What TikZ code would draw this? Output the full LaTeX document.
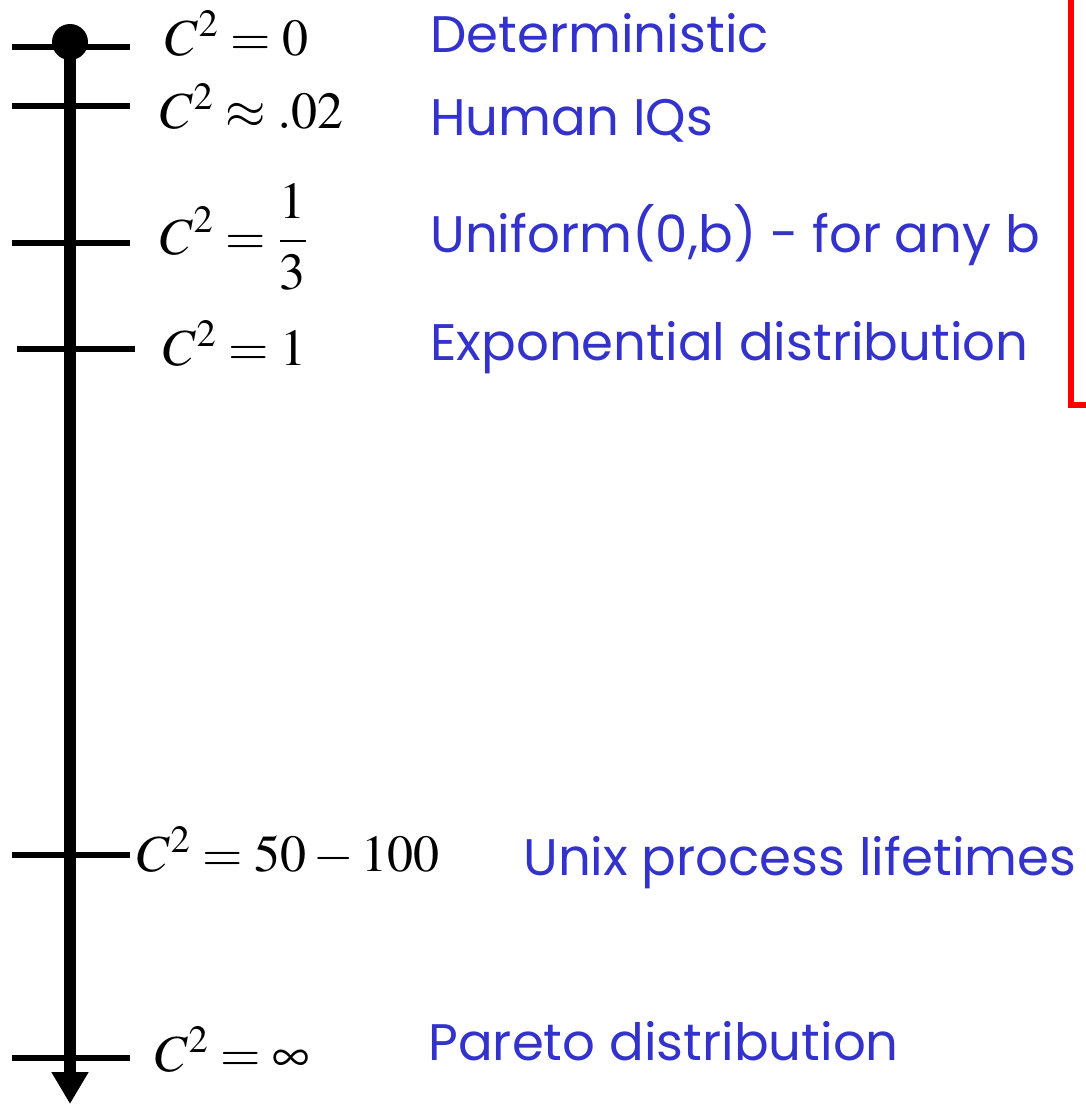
\documentclass[tikz,border=0pt]{standalone}
\usepackage{mathptmx}
\usepackage[no-math]{fontspec}
\newfontfamily\handfont{Poppins}
\usepackage{xcolor}
\usetikzlibrary{arrows.meta}
\definecolor{labelblue}{RGB}{51,51,204}

\begin{document}
\begin{tikzpicture}[x=0.5pt, y=-0.5pt, >={Triangle[width=17.5pt,length=16pt]},
  tick/.style={line width=3pt},
  cval/.style={anchor=base west, inner sep=0pt, font=\fontsize{26}{30}\selectfont},
  dname/.style={anchor=base west, inner sep=0pt, text=labelblue, font=\handfont\fontsize{25.7}{31}\selectfont}]
  \useasboundingbox (0,0) rectangle (1086,1104);
  % the axis
  \coordinate (top) at (70,42);
  \coordinate (bot) at (70,1104);
  \draw[line width=6pt, ->] (top) -- (bot);
  \fill (top) circle (9pt);
  % ticks
  \foreach \y/\xa in {47/12, 106/12, 243/12, 349/17, 855/12, 1058/12}
    \draw[tick] (\xa,\y) -- ++(118,0);
  % values
  \node[cval] (c0)   at (165,55)   {$C^2 = 0$};
  \node[cval] (ciq)  at (160,128)  {$C^2 \approx .02$};
  \node[cval] (cuni) at (160,254)  {$\displaystyle C^2 = \frac{1}{3}$};
  \node[cval] (cexp) at (163,365)  {$C^2 = 1$};
  \node[cval] (cunx) at (137,871)  {$C^2 = 50 - 100$};
  \node[cval] (cpar) at (155,1071) {$C^2 = \infty$};
  % names
  \node[dname] (det)  at (430,52)   {Deterministic};
  \node[dname] (iq)   at (430,135)  {Human IQs};
  \node[dname] (uni)  at (430,252)  {Uniform(0,b) - for any b};
  \node[dname] (expo) at (430,360)  {Exponential distribution};
  \node[dname] (unx)  at (523,875)  {Unix process lifetimes};
  \node[dname] (par)  at (428,1060) {Pareto distribution};
  % bracket on the right
  \draw[red, line width=3pt] (1071,0) -- (1071,405) -- (1086,405);
\end{tikzpicture}
\end{document}
